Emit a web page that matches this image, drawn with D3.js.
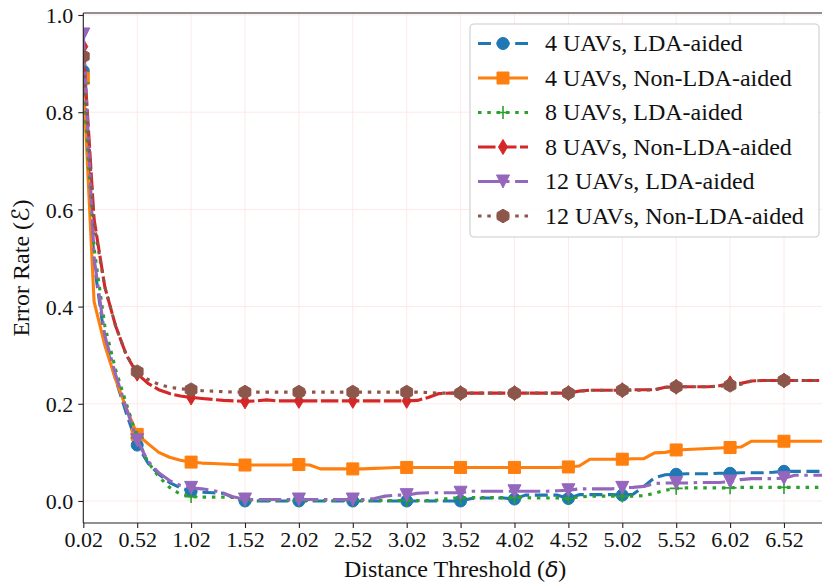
<!DOCTYPE html>
<html><head><meta charset="utf-8">
<script src="https://cdn.jsdelivr.net/npm/d3@7"></script>
<style>body{margin:0;background:#fff}svg{display:block}</style>
</head><body>
<svg id="chart" width="822" height="585"></svg>
<script>
// ---------- data ----------
const thresholds = [0.02,0.12,0.22,0.32,0.42,0.52,0.62,0.72,0.82,0.92,
  1.02,1.12,1.22,1.32,1.42,1.52,1.62,1.72,1.82,1.92,
  2.02,2.12,2.22,2.32,2.42,2.52,2.62,2.72,2.82,2.92,
  3.02,3.12,3.22,3.32,3.42,3.52,3.62,3.72,3.82,3.92,
  4.02,4.12,4.22,4.32,4.42,4.52,4.62,4.72,4.82,4.92,
  5.02,5.12,5.22,5.32,5.42,5.52,5.62,5.72,5.82,5.92,
  6.02,6.12,6.22,6.32,6.42,6.52,6.62,6.72,6.82,6.92];
const xTickLabels = ["0.02","0.52","1.02","1.52","2.02","2.52","3.02","3.52","4.02","4.52","5.02","5.52","6.02","6.52"];
const yTickLabels = ["0.0","0.2","0.4","0.6","0.8","1.0"];

const uav4LDA = [0.885,0.49,0.33,0.25,0.18,0.115,0.078,0.055,0.038,0.027,
  0.020,0.018,0.017,0.016,0.006,0.000,0.000,0.000,0.000,0.000,
  0,0,0,0,0,0,0,0,0,0,
  0,0,0,0,0,0,0.005,0.006,0.006,0.006,
  0.004,0.012,0.012,0.012,0.012,0.005,0.013,0.013,0.013,0.013,
  0.012,0.014,0.030,0.048,0.054,0.055,0.056,0.056,0.056,0.057,
  0.057,0.058,0.058,0.058,0.059,0.061,0.061,0.061,0.061,0.061];
const uav4NonLDA = [0.87,0.41,0.32,0.25,0.19,0.137,0.118,0.100,0.090,0.084,
  0.080,0.078,0.077,0.076,0.075,0.074,0.074,0.074,0.074,0.074,
  0.075,0.074,0.066,0.066,0.066,0.066,0.066,0.067,0.068,0.069,
  0.069,0.069,0.069,0.069,0.069,0.069,0.069,0.069,0.069,0.069,
  0.069,0.069,0.069,0.069,0.069,0.070,0.072,0.086,0.086,0.086,
  0.086,0.087,0.087,0.099,0.100,0.105,0.106,0.107,0.108,0.109,
  0.110,0.111,0.123,0.123,0.123,0.123,0.123,0.123,0.123,0.123];
const uav8LDA = [0.86,0.52,0.36,0.27,0.20,0.13,0.080,0.050,0.028,0.014,
  0.009,0.008,0.008,0.008,0.007,0.002,0.001,0.001,0.001,0.001,
  0.001,0.001,0.001,0.001,0.001,0.001,0.001,0.001,0.001,0.001,
  0.001,0.001,0.001,0.002,0.006,0.006,0.007,0.007,0.007,0.007,
  0.007,0.007,0.006,0.006,0.006,0.005,0.008,0.010,0.010,0.010,
  0.010,0.010,0.011,0.016,0.022,0.026,0.027,0.027,0.027,0.027,
  0.027,0.028,0.028,0.028,0.028,0.028,0.028,0.028,0.028,0.028];
const uav8NonLDA = [0.935,0.58,0.44,0.36,0.30,0.262,0.242,0.229,0.221,0.216,
  0.213,0.211,0.209,0.207,0.206,0.205,0.206,0.208,0.206,0.206,
  0.206,0.206,0.206,0.206,0.206,0.206,0.206,0.206,0.206,0.206,
  0.206,0.207,0.213,0.221,0.222,0.222,0.222,0.222,0.222,0.222,
  0.222,0.222,0.222,0.222,0.222,0.222,0.226,0.228,0.228,0.228,
  0.228,0.229,0.229,0.229,0.234,0.235,0.235,0.235,0.235,0.237,
  0.242,0.242,0.247,0.248,0.248,0.248,0.248,0.248,0.248,0.248];
const uav12LDA = [0.96,0.50,0.34,0.26,0.19,0.125,0.082,0.058,0.042,0.032,
  0.027,0.025,0.022,0.016,0.008,0.003,0.003,0.003,0.003,0.003,
  0.003,0.003,0.003,0.003,0.003,0.003,0.003,0.005,0.010,0.012,
  0.012,0.016,0.017,0.017,0.017,0.017,0.020,0.020,0.020,0.020,
  0.020,0.020,0.020,0.020,0.021,0.022,0.025,0.025,0.025,0.025,
  0.027,0.028,0.030,0.036,0.037,0.037,0.037,0.038,0.038,0.038,
  0.040,0.044,0.046,0.046,0.046,0.047,0.053,0.053,0.053,0.053];
const uav12NonLDA = [0.915,0.57,0.44,0.36,0.30,0.266,0.250,0.240,0.234,0.231,
  0.229,0.227,0.226,0.225,0.224,0.224,0.224,0.224,0.224,0.224,
  0.224,0.224,0.224,0.224,0.224,0.224,0.224,0.224,0.224,0.224,
  0.224,0.224,0.223,0.222,0.222,0.222,0.222,0.222,0.222,0.222,
  0.222,0.222,0.222,0.222,0.222,0.222,0.226,0.228,0.228,0.228,
  0.228,0.228,0.228,0.229,0.234,0.235,0.235,0.235,0.235,0.236,
  0.238,0.240,0.247,0.248,0.248,0.248,0.248,0.248,0.248,0.248];

const seriesNames = ["4 UAVs, LDA-aided","4 UAVs, Non-LDA-aided","8 UAVs, LDA-aided",
  "8 UAVs, Non-LDA-aided","12 UAVs, LDA-aided","12 UAVs, Non-LDA-aided"];
const seriesValues = [uav4LDA, uav4NonLDA, uav8LDA, uav8NonLDA, uav12LDA, uav12NonLDA];

// ---------- styles ----------
const colors = ["#1f77b4","#ff7f0e","#2ca02c","#d62728","#9467bd","#8c564b"];
const dashes = ["13,5.6", null, "3.5,5.8", "17.5,3.5", "22.4,5.6,3.5,5.6", "3.5,5.8"];
const markers = ["circle","square","plus","thindiamond","trianglev","hexagon"];
const LW = 3.1;

const W = 822, H = 585;
const M = {left: 83.3, top: 13, right: 827.1, bottom: 523};
const svg = d3.select("#chart");
const FONT = "'Liberation Serif','Times New Roman',serif";

const x = d3.scaleLinear().domain([0.02, 6.92]).range([M.left, M.right]);
const y = d3.scaleLinear().domain([-0.0453, 1.0041]).range([M.bottom, M.top]);

svg.append("defs").append("clipPath").attr("id","plotclip")
  .append("rect").attr("x",M.left).attr("y",M.top)
  .attr("width",M.right-M.left).attr("height",M.bottom-M.top);

// grid
const grid = svg.append("g");
xTickLabels.forEach(t => {
  grid.append("line").attr("x1",x(+t)).attr("x2",x(+t)).attr("y1",M.top).attr("y2",M.bottom)
    .attr("stroke","#ffe8e8").attr("stroke-width",1);
});
yTickLabels.forEach(t => {
  grid.append("line").attr("x1",M.left).attr("x2",M.right).attr("y1",y(+t)).attr("y2",y(+t))
    .attr("stroke","#ffe8e8").attr("stroke-width",1);
});

function markerPath(kind) {
  switch(kind) {
    case "circle": return d3.symbol(d3.symbolCircle, Math.PI*6*6)();
    case "square": return "M-6,-6H6V6H-6Z";
    case "plus": return "M-6.5,0H6.5M0,-6.5V6.5";
    case "thindiamond": return "M0,-7.5L4.5,0L0,7.5L-4.5,0Z";
    case "trianglev": return "M-6.5,-6.5L6.5,-6.5L0,6.5Z";
    case "hexagon": {
      const r = 6.8, pts = [];
      for (let k=0;k<6;k++){ const a = -Math.PI/2 + k*Math.PI/3; pts.push([r*Math.cos(a), r*Math.sin(a)]); }
      return "M" + pts.map(p=>p.join(",")).join("L") + "Z";
    }
  }
}
function drawMarker(g, kind, color, cx, cy) {
  const p = g.append("path").attr("d", markerPath(kind)).attr("transform",`translate(${cx},${cy})`);
  if (kind === "plus") p.attr("fill","none").attr("stroke",color).attr("stroke-width",1.6);
  else p.attr("fill",color).attr("stroke",color).attr("stroke-width",1);
}

// lines
const plot = svg.append("g").attr("clip-path","url(#plotclip)");
const line = d3.line().x((d,i)=>x(thresholds[i])).y(d=>y(d));
seriesValues.forEach((vals, s) => {
  const g = plot.append("g");
  const p = g.append("path").attr("d", line(vals)).attr("fill","none")
    .attr("stroke", colors[s]).attr("stroke-width", LW).attr("stroke-linejoin","round");
  if (dashes[s]) p.attr("stroke-dasharray", dashes[s]);
  vals.forEach((v,i) => { if (i % 5 === 0) drawMarker(g, markers[s], colors[s], x(thresholds[i]), y(v)); });
});

// spines
[[M.left,M.left,M.top,M.bottom],[M.left,M.right,M.bottom,M.bottom],[M.left,M.right,M.top,M.top],[M.right,M.right,M.top,M.bottom]]
  .forEach(([x1,x2,y1,y2]) => svg.append("line").attr("x1",x1).attr("x2",x2).attr("y1",y1).attr("y2",y2)
    .attr("stroke","#222").attr("stroke-width",1.1));

// axes
const xAxis = d3.axisBottom(x).tickValues(xTickLabels.map(Number)).tickFormat((d,i)=>xTickLabels[i]).tickSize(5).tickPadding(6);
const gx = svg.append("g").attr("transform",`translate(0,${M.bottom})`).call(xAxis);
gx.select(".domain").remove();
gx.selectAll("line").attr("stroke","#222").attr("stroke-width",1.1);
gx.selectAll("text").attr("font-family",FONT).attr("font-size",22).attr("fill","#111").attr("dy",null).attr("y",24);

const yAxis = d3.axisLeft(y).tickValues(yTickLabels.map(Number)).tickFormat((d,i)=>yTickLabels[i]).tickSize(5).tickPadding(5);
const gy = svg.append("g").attr("transform",`translate(${M.left},0)`).call(yAxis);
gy.select(".domain").remove();
gy.selectAll("line").attr("stroke","#222").attr("stroke-width",1.1);
gy.selectAll("text").attr("font-family",FONT).attr("font-size",22).attr("fill","#111").attr("x",-10).attr("dy","0.35em");

// axis titles
const xt = svg.append("text").attr("x",(M.left+M.right)/2).attr("y",577).attr("text-anchor","middle")
  .attr("font-family",FONT).attr("font-size",24).attr("fill","#111");
xt.append("tspan").text("Distance Threshold (");
xt.append("tspan").attr("font-family","'DejaVu Sans',sans-serif").attr("font-style","italic").attr("font-size",22).text("δ");
xt.append("tspan").text(")");

const yt = svg.append("text").attr("transform",`translate(29,${(M.top+M.bottom)/2}) rotate(-90)`).attr("text-anchor","middle")
  .attr("font-family",FONT).attr("font-size",24).attr("fill","#111");
yt.append("tspan").text("Error Rate (");
yt.append("tspan").attr("font-family","'DejaVu Sans',sans-serif").attr("font-size",24).text("ℰ");
yt.append("tspan").text(")");

// legend
const lg = svg.append("g");
lg.append("rect").attr("x",470).attr("y",24).attr("width",349).attr("height",213).attr("rx",4)
  .attr("fill","#fff").attr("fill-opacity",0.85).attr("stroke","#cccccc").attr("stroke-width",1.1);
seriesNames.forEach((name, s) => {
  const cy = 43.5 + s*34.5;
  const l = lg.append("line").attr("x1",478).attr("x2",528).attr("y1",cy).attr("y2",cy)
    .attr("stroke",colors[s]).attr("stroke-width",LW);
  if (dashes[s]) l.attr("stroke-dasharray", dashes[s]);
  drawMarker(lg, markers[s], colors[s], 503, cy);
  lg.append("text").attr("x",545).attr("y",cy+7.5).attr("font-family",FONT).attr("font-size",24)
    .attr("fill","#111").text(name);
});
</script>
</body></html>
